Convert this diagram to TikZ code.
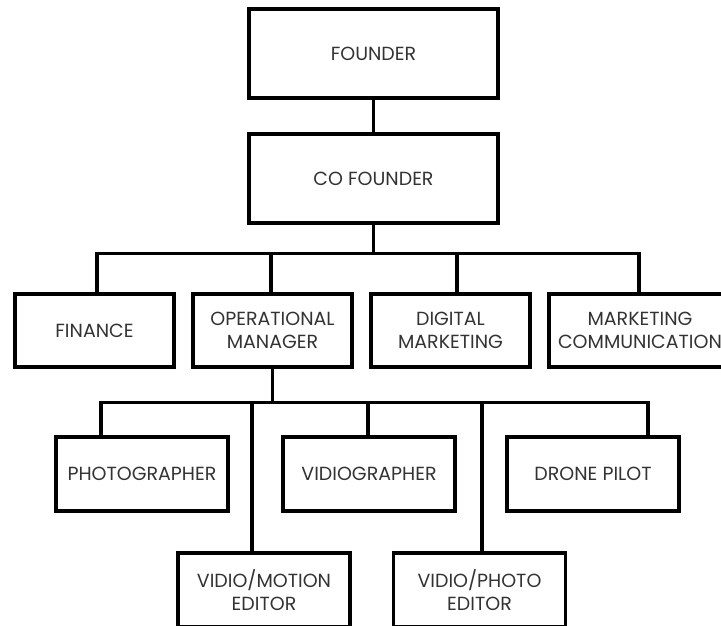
\documentclass[tikz,border=0pt]{standalone}
\usepackage{fontspec}
\setmainfont{Poppins}
\usepackage{tikz}
\usetikzlibrary{positioning,calc}

\begin{document}
\begin{tikzpicture}[x=1pt,y=-1pt,line width=3.3pt,
    box/.style={draw,rectangle,inner sep=0pt,align=center,text=black!80,
      font=\fontsize{19}{23.5}\selectfont},
    big/.style={box,minimum width=249pt,minimum height=89pt},
    mid/.style={box,minimum width=159pt,minimum height=73pt},
    small/.style={box,minimum width=172pt,minimum height=74pt}]
    \useasboundingbox (0,0) rectangle (721,625);
    \clip (0,0) rectangle (721,625);
    % top
    \node[big] (founder) at (373.5,53.5) {FOUNDER};
    \node[big] (cofounder) at (373.5,178.5) {CO FOUNDER};
    % second row
    \node[mid] (finance) at (94.5,330.5) {FINANCE};
    \node[mid] (opman) at (272.5,330.5) {OPERATIONAL\\MANAGER};
    \node[mid] (digital) at (450.5,330.5) {DIGITAL\\MARKETING};
    \node[box,minimum width=182pt,minimum height=73pt] (marcom) at (640,330.5) {MARKETING\\COMMUNICATION};
    % third row
    \node[small] (photog) at (142,474) {PHOTOGRAPHER};
    \node[small] (vidiog) at (369,474) {VIDIOGRAPHER};
    \node[small] (drone) at (593,474) {DRONE PILOT};
    \node[small] (motion) at (264,590) {VIDIO/MOTION\\EDITOR};
    \node[small] (photoed) at (479.5,590) {VIDIO/PHOTO\\EDITOR};
    % lines
    \draw (founder) -- (cofounder);
    \draw (cofounder.south) -- ++(0,29) -| ([xshift=2.5pt]finance.north);
    \draw (cofounder.south) -- ++(0,29) -| ([xshift=-1.5pt]opman.north);
    \draw (cofounder.south) -- ++(0,29) -| ([xshift=6.5pt]digital.north);
    \draw (cofounder.south) -- ++(0,29) -| ([xshift=-1pt]marcom.north);
    \draw (opman.south) -- ++(0,34) -| ([xshift=-41pt]photog.north);
    \draw (opman.south) -- ++(0,34) -| ([xshift=-1pt]vidiog.north);
    \draw (opman.south) -- ++(0,34) -| ([xshift=55pt]drone.north);
    \draw (opman.south) -- ++(0,34) -| ([xshift=-12pt]motion.north);
    \draw (opman.south) -- ++(0,34) -| ([xshift=2.5pt]photoed.north);
\end{tikzpicture}
\end{document}
